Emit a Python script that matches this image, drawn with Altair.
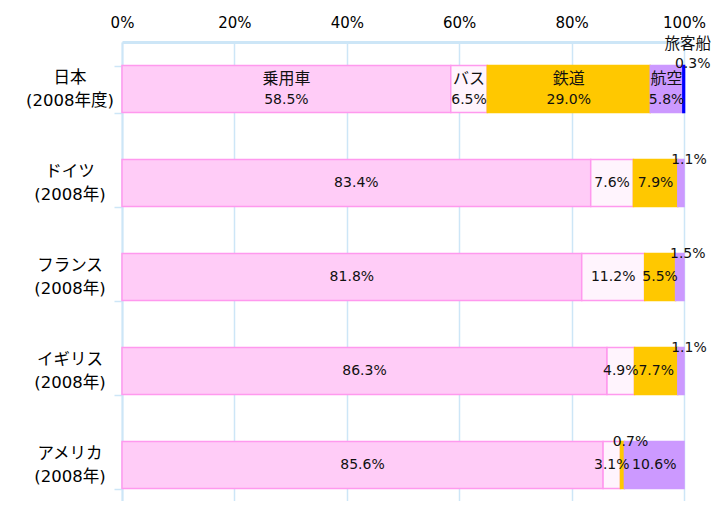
import altair as alt
import pandas as pd

countries = ["日本\n(2008年度)", "ドイツ\n(2008年)", "フランス\n(2008年)", "イギリス\n(2008年)", "アメリカ\n(2008年)"]
modes = ["乗用車", "バス", "鉄道", "航空", "旅客船"]
car = [58.5, 83.4, 81.8, 86.3, 85.6]
bus = [6.5, 7.6, 11.2, 4.9, 3.1]
rail = [29.0, 7.9, 5.5, 7.7, 0.7]
air = [5.8, 1.1, 1.5, 1.1, 10.6]
ship = [0.3, 0.0, 0.0, 0.0, 0.0]
ticks_pct = [0, 20, 40, 60, 80, 100]

series = [car, bus, rail, air, ship]
fills = ["#FFCCF7", "#FFF4FD", "#FFC800", "#CC99FF", "#0000FF"]
strokes = ["#FF99EE", "#FF99EE", "#FFC800", "#CC99FF", "#0000FF"]

rows = []
for i, c in enumerate(countries):
    start = 0.0
    for j, m in enumerate(modes):
        v = series[j][i]
        if v > 0:
            rows.append(dict(country=c, mode=m, order=j, value=v, start=start,
                             end=start + v, mid=start + v / 2,
                             label=f"{v:.1f}%", name=m if i == 0 else "",
                             small=v < 2, named=(i == 0)))
        start += v
df = pd.DataFrame(rows)
cdf = pd.DataFrame({"country": countries})

FONT = "DejaVu Sans, Noto Sans CJK JP"
JFONT = "Noto Sans CJK JP"
GRID = "#CDE6F7"

yscale = alt.Scale(domain=countries, range=[0, 470], paddingInner=0.5, paddingOuter=0.25)
xscale = alt.Scale(domain=[0, 100], nice=False)
Y = alt.Y("country:N", sort=countries, scale=yscale)
X = alt.X("mid:Q", scale=xscale)

bars = alt.Chart(df).mark_bar(strokeWidth=1.5).encode(
    x=alt.X("start:Q", scale=xscale, title=None,
            axis=alt.Axis(orient="top", values=ticks_pct, labelExpr="datum.value + '%'",
                          labelFontSize=15, labelFont=FONT, labelColor="#000",
                          labelPadding=12, ticks=False, labelFlush=False,
                          domainColor=GRID, domainWidth=3, gridColor=GRID, gridWidth=1.5)),
    x2="end:Q",
    y=alt.Y("country:N", sort=countries, scale=yscale, title=None,
            axis=alt.Axis(labels=False, tickBand="extent", tickSize=8, tickColor=GRID,
                          tickWidth=1.5, domainColor=GRID, domainWidth=2, grid=False)),
    fill=alt.Fill("mode:N", scale=alt.Scale(domain=modes, range=fills), legend=None),
    stroke=alt.Stroke("mode:N", scale=alt.Scale(domain=modes, range=strokes), legend=None),
)


def labels(filt, field, dx, dy, size, font):
    return alt.Chart(df).transform_filter(filt).mark_text(
        align="center", baseline="middle",
        fontSize=size, font=font, color="#111", dx=dx, dy=dy
    ).encode(x=X, y=Y, text=f"{field}:N")


val_in = labels("!datum.small && !datum.named", "label", 0, 0, 14, FONT)
val_in_j = labels("!datum.small && datum.named", "label", 0, 11, 14, FONT)
name_in_j = labels("!datum.small && datum.named", "name", 0, -10, 16, JFONT)
val_out = labels("datum.small && !datum.named", "label", 8, -23, 14, FONT)
val_out_j = labels("datum.small && datum.named", "label", 9, -25, 14, FONT)
name_out_j = labels("datum.small && datum.named", "name", 4, -45, 15.5, JFONT)

clabels = alt.Chart(cdf).mark_text(
    align="center", baseline="middle", lineBreak="\n", lineHeight=23,
    fontSize=16.5, font=FONT, color="#000", dy=-11.5
).encode(
    x=alt.value(-52),
    y=Y,
    text="country:N",
)

chart = alt.layer(bars, val_in, val_in_j, name_in_j, val_out, val_out_j, name_out_j,
                  clabels).properties(
    width=562, height=459,
    autosize=alt.AutoSizeParams(type="none"),
    padding={"left": 114, "top": 34, "right": 28, "bottom": 0},
).configure_view(stroke=None)

chart.save("out.html", embed_options={"renderer": "svg", "actions": False})
